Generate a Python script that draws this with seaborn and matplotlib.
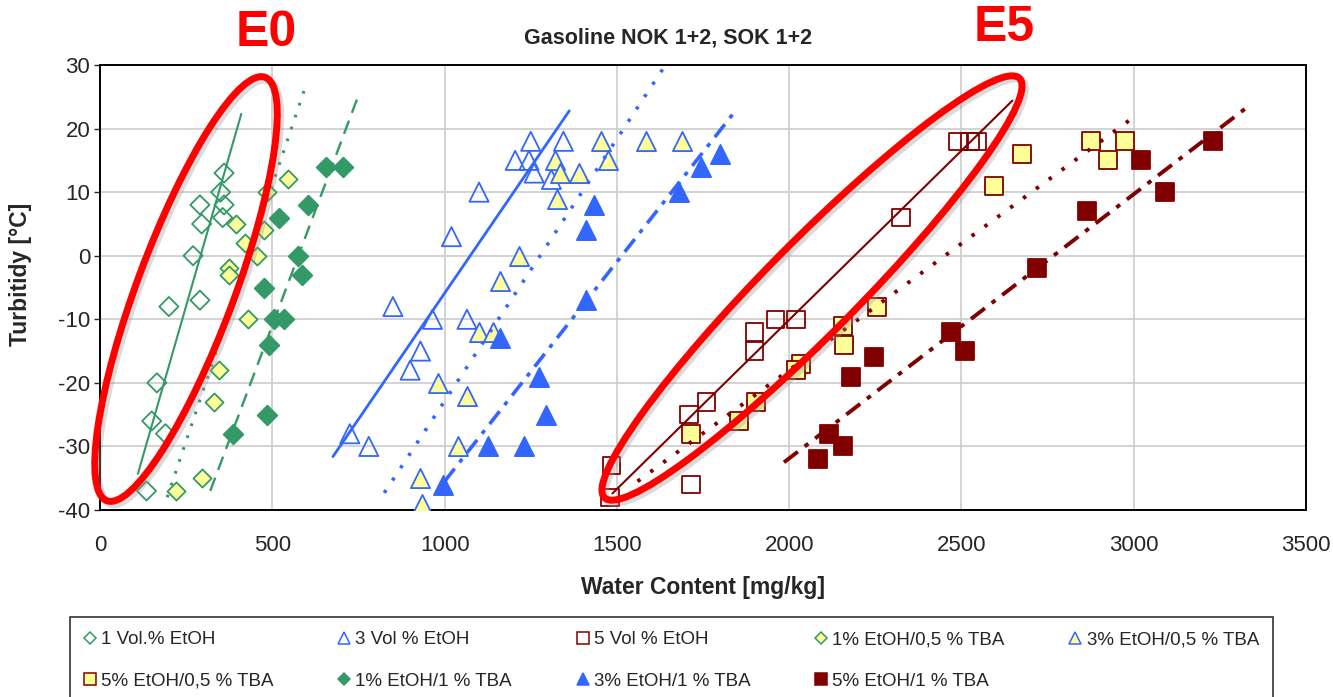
import numpy as np
import seaborn as sns
import matplotlib.pyplot as plt
from matplotlib.lines import Line2D
from matplotlib.patches import Ellipse

# ---------------------------------------------------------
# 1. Data
# ---------------------------------------------------------
# 1 Vol.% EtOH
e1_x = [360, 350, 290, 360, 356, 295, 270, 200, 290, 165, 150, 190, 135]
e1_y = [13, 10, 8, 8, 6, 5, 0, -8, -7, -20, -26, -28, -37]
# 3 Vol % EtOH
e3_x = [1250, 1345, 1205, 1245, 1260, 1310, 1100, 1020, 850, 965, 1065, 930, 900, 725, 780]
e3_y = [18, 18, 15, 15, 13, 12, 10, 3, -8, -10, -10, -15, -18, -28, -30]
# 5 Vol % EtOH
e5_x = [2490, 2525, 2545, 2325, 1960, 2020, 1900, 1900, 1760, 1710, 1715, 1485, 1480]
e5_y = [18, 18, 18, 6, -10, -10, -12, -15, -23, -25, -36, -33, -38]
# 1% EtOH/0,5 % TBA
e1t05_x = [545, 485, 395, 475, 420, 455, 375, 375, 430, 345, 330, 295, 220]
e1t05_y = [12, 10, 5, 4, 2, 0, -2, -3, -10, -18, -23, -35, -37]
# 3% EtOH/0,5 % TBA
e3t05_x = [1455, 1585, 1690, 1320, 1475, 1335, 1390, 1325, 1215, 1160, 1100, 1140, 980, 1065, 1040, 930, 935]
e3t05_y = [18, 18, 18, 15, 15, 13, 13, 9, 0, -4, -12, -12, -20, -22, -30, -35, -39]
# 5% EtOH/0,5 % TBA
e5t05_x = [2875, 2975, 2925, 2675, 2595, 2255, 2155, 2160, 2035, 2020, 1905, 1855, 1715]
e5t05_y = [18, 18, 15, 16, 11, -8, -11, -14, -17, -18, -23, -26, -28]
# 1% EtOH/1 % TBA
e1t1_x = [655, 705, 605, 520, 575, 585, 475, 505, 535, 490, 485, 385]
e1t1_y = [14, 14, 8, 6, 0, -3, -5, -10, -10, -14, -25, -28]
# 3% EtOH/1 % TBA
e3t1_x = [1800, 1745, 1680, 1435, 1410, 1410, 1160, 1275, 1295, 1125, 1230, 995]
e3t1_y = [16, 14, 10, 8, 4, -7, -13, -19, -25, -30, -30, -36]
# 5% EtOH/1 % TBA
e5t1_x = [3230, 3020, 3090, 2865, 2720, 2470, 2510, 2245, 2180, 2115, 2155, 2085]
e5t1_y = [18, 15, 10, 7, -2, -12, -15, -16, -19, -28, -30, -32]

# trend line end points
tr_e1_x, tr_e1_y = [110, 410], [-34.3, 22.3]
tr_e3_x, tr_e3_y = [676, 1362], [-31.6, 22.8]
tr_e5_x, tr_e5_y = [1487, 2648], [-37.4, 24.4]
tr_e1t05_x, tr_e1t05_y = [195, 595], [-38.0, 26.4]
tr_e3t05_x, tr_e3t05_y = [825, 1635], [-37.3, 29.5]
tr_e5t05_x, tr_e5t05_y = [1560, 2995], [-35.5, 21.6]
tr_e1t1_x, tr_e1t1_y = [320, 752], [-37.0, 25.5]
tr_e3t1_x, tr_e3t1_y = [1000, 1837], [-35.5, 22.3]
tr_e5t1_x, tr_e5t1_y = [1985, 3335], [-32.5, 23.6]

labels = ["1 Vol.% EtOH", "3 Vol % EtOH", "5 Vol % EtOH",
          "1% EtOH/0,5 % TBA", "3% EtOH/0,5 % TBA", "5% EtOH/0,5 % TBA",
          "1% EtOH/1 % TBA", "3% EtOH/1 % TBA", "5% EtOH/1 % TBA"]

green = "#339966"
blue = "#3366FF"
brown = "#800000"
yellow = "#FFFF99"

DOT = (0, (0.9, 3.2))
DASHDOT = (0, (4.5, 2.2, 1.2, 2.2))

# label, x, y, marker, size, face, edge, trend x, trend y, style, lw
series = [
    (labels[0], e1_x, e1_y, "D", 95, "none", green, tr_e1_x, tr_e1_y, "-", 1.5),
    (labels[1], e3_x, e3_y, "^", 190, "none", blue, tr_e3_x, tr_e3_y, "-", 2.0),
    (labels[2], e5_x, e5_y, "s", 160, "none", brown, tr_e5_x, tr_e5_y, "-", 1.5),
    (labels[3], e1t05_x, e1t05_y, "D", 85, yellow, green, tr_e1t05_x, tr_e1t05_y, DOT, 2.2),
    (labels[4], e3t05_x, e3t05_y, "^", 190, yellow, blue, tr_e3t05_x, tr_e3t05_y, DOT, 2.6),
    (labels[5], e5t05_x, e5t05_y, "s", 160, yellow, brown, tr_e5t05_x, tr_e5t05_y, DOT, 2.8),
    (labels[6], e1t1_x, e1t1_y, "D", 100, green, green, tr_e1t1_x, tr_e1t1_y, (0, (6, 3.5)), 1.7),
    (labels[7], e3t1_x, e3t1_y, "^", 190, blue, blue, tr_e3t1_x, tr_e3t1_y, DASHDOT, 2.6),
    (labels[8], e5t1_x, e5t1_y, "s", 170, brown, brown, tr_e5t1_x, tr_e5t1_y, DASHDOT, 2.8),
]

# ---------------------------------------------------------
# 2. Plot
# ---------------------------------------------------------
sns.set_style("white")
plt.rcParams["font.family"] = ["Liberation Sans", "DejaVu Sans"]
plt.rcParams["axes.unicode_minus"] = False

W, H = 1333, 697
fig = plt.figure(figsize=(W / 100, H / 100), dpi=100)
ax = fig.add_axes([100 / W, 1 - 510 / H, 1206 / W, 445 / H])

handles = []
for lab, x, y, mk, s, fc, ec, tx, ty, ls, lw in series:
    sns.scatterplot(x=x, y=y, ax=ax, marker=mk, s=s, facecolor=fc,
                    edgecolor=ec, linewidth=1.3, zorder=3, legend=False)
    sns.lineplot(x=tx, y=ty, ax=ax, color=ec, linestyle=ls, linewidth=lw,
                 estimator=None, sort=False, legend=False, zorder=4)
    handles.append(Line2D([], [], marker=mk, linestyle="none",
                          markersize=8 if mk != "D" else 6.5,
                          markerfacecolor=fc, markeredgecolor=ec,
                          markeredgewidth=1.1, label=lab))

ax.set_xlim(0, 3500)
ax.set_ylim(-40, 30)
ax.set_xticks(np.arange(0, 3501, 500))
ax.set_yticks(np.arange(-40, 31, 10))
ax.grid(True, color="#cccccc", linewidth=1.2)
ax.set_axisbelow(True)
for sp in ax.spines.values():
    sp.set_color("black")
    sp.set_linewidth(1.4)
ax.tick_params(axis="x", length=0, pad=18, labelsize=16)
ax.tick_params(axis="y", length=4, width=1, direction="out", pad=3, labelsize=16, left=True)

ax.set_xlabel("Water Content [mg/kg]", fontsize=16.5, fontweight="bold")
ax.xaxis.set_label_coords(0.5, -0.175)
ax.xaxis.label.set_verticalalignment("center")
ax.set_ylabel("Turbitidy [°C]", fontsize=16.5, fontweight="bold")
ax.yaxis.set_label_coords(-0.066, 0.53)
ax.yaxis.label.set_verticalalignment("center")

fig.text(668 / W, 1 - 38 / H, "Gasoline NOK 1+2, SOK 1+2", ha="center", va="center",
         fontsize=15.5, fontweight="bold")

# red highlight ellipses and labels
for cx, cy, L, B, ang in [(186, 289, 452, 97, 69.5), (812, 288, 590, 92, 45.3)]:
    shadow = Ellipse(((cx + 3) / 100, (H - cy - 3) / 100), L / 100, B / 100, angle=ang,
                     transform=fig.dpi_scale_trans, fill=False, edgecolor="#999999",
                     linewidth=5.5, alpha=0.35, zorder=9)
    ring = Ellipse((cx / 100, (H - cy) / 100), L / 100, B / 100, angle=ang,
                   transform=fig.dpi_scale_trans, fill=False, edgecolor="#FF0000",
                   linewidth=5.0, zorder=10)
    fig.add_artist(shadow)
    fig.add_artist(ring)

fig.text(266 / W, 1 - 33 / H, "E0", color="#FF0000", fontsize=36, fontweight="bold",
         ha="center", va="center")
fig.text(1004 / W, 1 - 28 / H, "E5", color="#FF0000", fontsize=36, fontweight="bold",
         ha="center", va="center")

# legend, filled row by row
order = [0, 5, 1, 6, 2, 7, 3, 8, 4]
leg = fig.legend(handles=[handles[i] for i in order], loc="upper left",
                 bbox_to_anchor=(70 / W, 1 - 617 / H, (1273 - 70) / W, 0.0001),
                 mode="expand", ncol=5, fontsize=13.5, frameon=True, fancybox=False,
                 edgecolor="black", handlelength=0.6, handletextpad=0.3,
                 borderpad=0.75, labelspacing=1.3, borderaxespad=0)
leg.get_frame().set_linewidth(1.2)

plt.savefig("out.png", dpi=100)
